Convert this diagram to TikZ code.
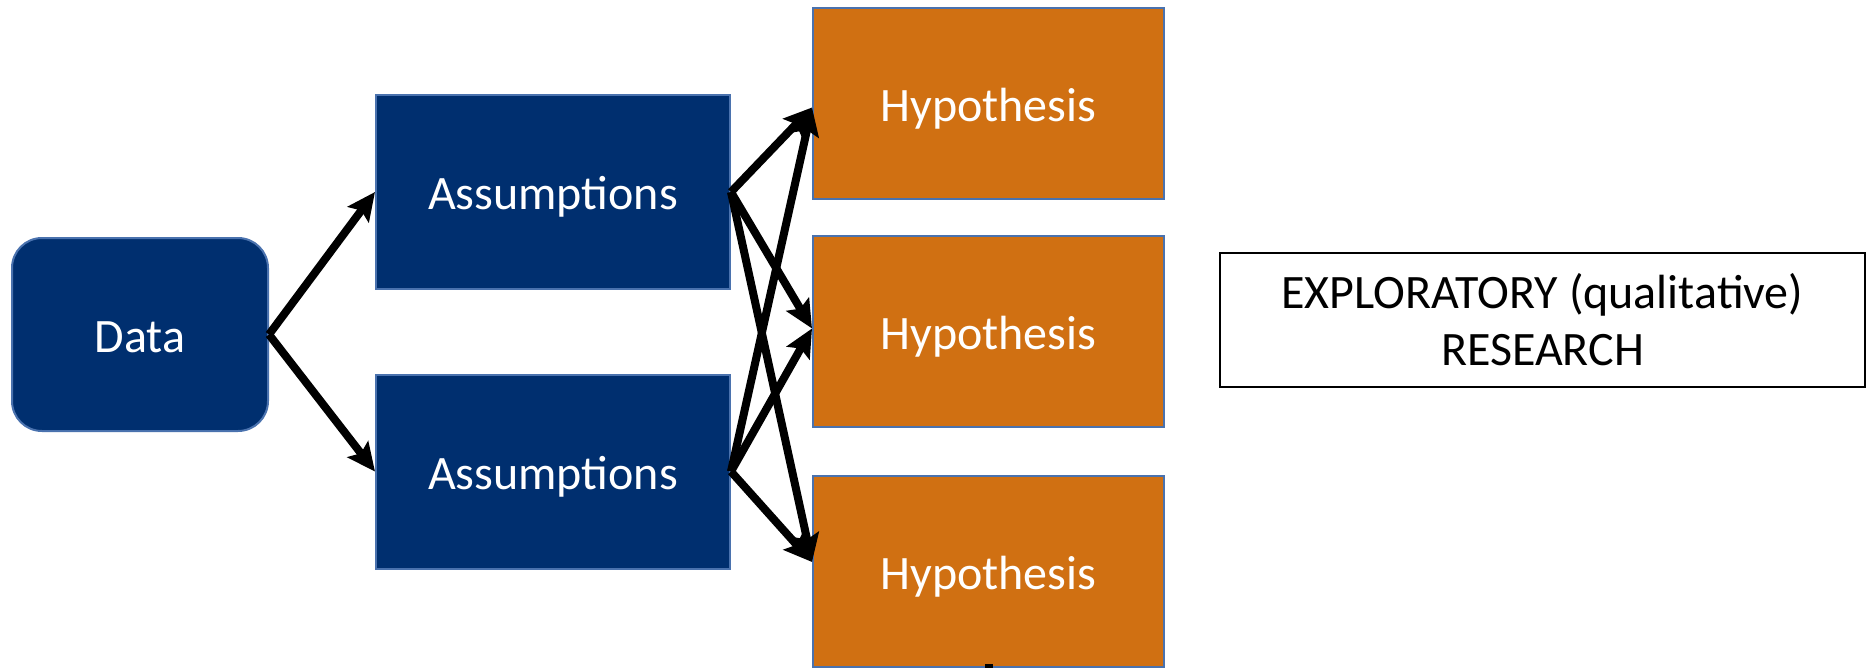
\documentclass[tikz,border=0pt]{standalone}
\usepackage{fontspec}
\setmainfont{Carlito}
\usetikzlibrary{arrows.meta,calc}
\definecolor{navyfill}{HTML}{002F6F}
\definecolor{edgeblue}{HTML}{4A72AE}
\definecolor{orangefill}{HTML}{D07012}
\begin{document}
\begin{tikzpicture}[x=0.5pt,y=-0.5pt,
  box/.style={draw=edgeblue,line width=1pt,text=white,inner sep=0pt,
    text height=24pt,text depth=6pt,
    font=\fontsize{24pt}{28pt}\selectfont},
  databox/.style={box,fill=navyfill,rounded corners=15pt,
    minimum width=128pt,minimum height=96.5pt},
  assbox/.style={box,fill=navyfill,minimum width=177pt,minimum height=97pt},
  hypbox/.style={box,fill=orangefill,minimum width=175.5pt,minimum height=95.5pt},
  notebox/.style={draw=black,line width=1pt,fill=white,align=center,inner sep=0pt,
    minimum width=322.5pt,minimum height=67pt,
    font=\fontsize{24pt}{28.35pt}\selectfont},
  link/.style={line width=4pt,-{Stealth[length=14pt,width=13pt,inset=2.5pt]}}]
\useasboundingbox (0,0) rectangle (1866,668);

% boxes
\node[databox] (data) at (140,334.5) {Data};
\node[assbox] (a1) at (553,192) {Assumptions};
\node[assbox] (a2) at (553,471.5) {Assumptions};
\node[hypbox] (h1) at (988.5,103.5) {Hypothesis};
\node[hypbox] (h2) at (988.5,331.5) {Hypothesis};
\node[hypbox] (h3) at (988.5,571) {Hypothesis};
\node[notebox] (note) at (1542.5,319.7) {EXPLORATORY (qualitative)\\RESEARCH};

% arrow end points on the hypothesis boxes
\coordinate (t1) at ($(h1.west)+(0,4)$);
\coordinate (t2) at ($(h2.west)+(0,-3)$);
\coordinate (t3) at ($(h3.west)+(0,-9)$);

% connectors
\draw[link] (data.east) -- (a1.west);
\draw[link] (data.east) -- (a2.west);
\draw[link] (a1.east) -- (t1);
\draw[link] (a1.east) -- (t2);
\draw[link] (a1.east) -- (t3);
\draw[link] (a2.east) -- (t1);
\draw[link] (a2.east) -- (t2);
\draw[link] (a2.east) -- (t3);

% small mark under the last box
\fill[black] (985,664) rectangle (993,668);
\end{tikzpicture}
\end{document}
